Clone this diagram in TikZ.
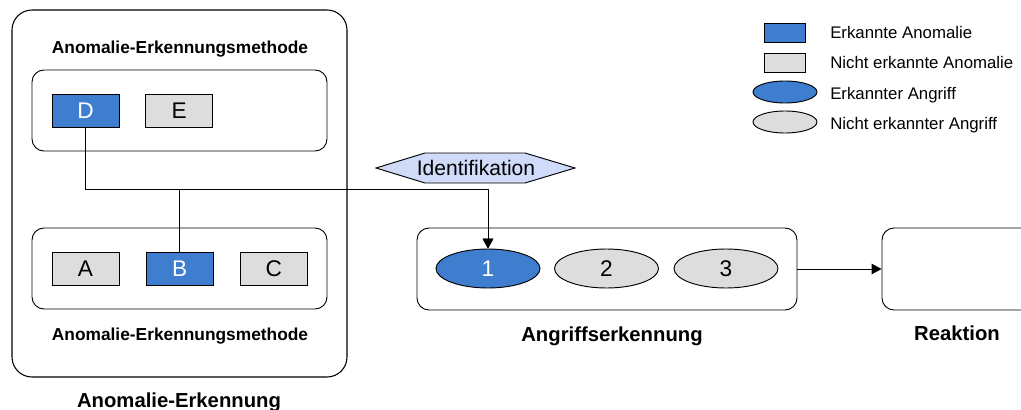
\documentclass[tikz,border=0pt]{standalone}
\usepackage{fontspec}
\setmainfont{Liberation Sans}
\usetikzlibrary{shapes.geometric,fit,arrows.meta}

\definecolor{detblue}{HTML}{3F7ECE}
\definecolor{undet}{HTML}{DDDDDD}
\definecolor{hexfill}{HTML}{CFDBF8}

\tikzset{
  % one unit = one pixel of a 96 dpi canvas
  x=0.75pt, y=-0.75pt,
  frame/.style={draw, line width=0.8pt, inner sep=0pt},
  anobox/.style={draw, line width=0.7pt, minimum width=50.25pt, minimum height=24.75pt,
                 inner sep=0pt, font=\fontsize{17pt}{20pt}\selectfont},
  found/.style={fill=detblue, text=white},
  missed/.style={fill=undet},
  attack/.style={ellipse, draw, line width=0.7pt, minimum width=78pt, minimum height=29.25pt,
                 inner sep=0pt, font=\fontsize{17pt}{20pt}\selectfont},
  legrect/.style={draw, line width=0.7pt, minimum width=30.75pt, minimum height=14.25pt, inner sep=0pt},
  legell/.style={ellipse, draw, line width=0.7pt, minimum width=48pt, minimum height=16.5pt, inner sep=0pt},
  legtext/.style={anchor=base west, inner sep=0pt, font=\fontsize{12.6pt}{15pt}\selectfont},
  bigtitle/.style={anchor=base, inner sep=0pt, font=\fontsize{15.2pt}{18pt}\selectfont\bfseries},
  smalltitle/.style={anchor=base, inner sep=0pt, font=\fontsize{13pt}{15pt}\selectfont\bfseries},
  tag/.style={inner sep=0pt, font=\fontsize{15.8pt}{18pt}\selectfont},
  arrowlink/.style={line width=0.7pt, -{Triangle[length=7.5pt,width=8pt]}}
}

\begin{document}
\begin{tikzpicture}
\useasboundingbox (0,0) rectangle (1021,410);
\clip (0,0) rectangle (1021,410);

% --- anomaly detection block ---
\node[frame, rounded corners=15pt, fit={(12,10) (347,377)}] (anomaly) {};
\node[frame, rounded corners=9pt, line width=0.7pt, fit={(32,70) (327,151)}] (methodtop) {};
\node[frame, rounded corners=9pt, line width=0.7pt, fit={(32,228) (327,309)}] (methodbot) {};
\node[smalltitle] (titletop) at (180,54) {Anomalie-Erkennungsmethode};
\node[smalltitle] (titlebot) at (180,340.5) {Anomalie-Erkennungsmethode};
\node[bigtitle] (anomalylabel) at (179,407.5) {Anomalie-Erkennung};

\node[anobox, found]  (D) at (85.5,110.5) {D};
\node[anobox, missed] (E) at (179.3,110.5) {E};
\node[anobox, missed] (A) at (85.5,268.7) {A};
\node[anobox, found]  (B) at (179.7,268.7) {B};
\node[anobox, missed] (C) at (273.9,268.7) {C};

% --- attack detection block ---
\node[frame, rounded corners=9pt, line width=0.7pt, fit={(417,228) (797,310)}] (attackbox) {};
\node[attack, found]  (a1) at (488,268.5) {1};
\node[attack, missed] (a2) at (606.5,268.5) {2};
\node[attack, missed] (a3) at (726,268.5) {3};
\node[bigtitle] (attacklabel) at (612,341.5) {Angriffserkennung};

% --- reaction block ---
\node[frame, rounded corners=9pt, line width=0.7pt, fit={(882,228) (1040,310)}] (reaction) {};
\node[bigtitle] (reactionlabel) at (957,340.5) {Reaktion};

% --- identification tag: hexagon behind its label ---
\draw[line width=0.7pt, fill=hexfill]
  (376,168) -- (425,153) -- (525,153) -- (575,168) -- (525,183) -- (425,183) -- cycle;
\node[tag] (ident) at (476,168) {Identifikation};

% --- connectors ---
\coordinate (junction) at (488,189);
\draw[arrowlink] (D.south) |- (junction) -- (a1.north);
\draw[arrowlink] (B.north) |- (junction) -- (a1.north);
\draw[arrowlink] (attackbox.east) -- (reaction.west);

% --- legend ---
\node[legrect, found]  (lr1) at (784.5,32.5) {};
\node[legrect, missed] (lr2) at (784.5,62.5) {};
\node[legell, found]   (le1) at (785,92) {};
\node[legell, missed]  (le2) at (785,122) {};
\node[legtext] (lt1) at (830,39) {Erkannte Anomalie};
\node[legtext] (lt2) at (830,69) {Nicht erkannte Anomalie};
\node[legtext] (lt3) at (830,99) {Erkannter Angriff};
\node[legtext] (lt4) at (830,129) {Nicht erkannter Angriff};
\end{tikzpicture}
\end{document}
